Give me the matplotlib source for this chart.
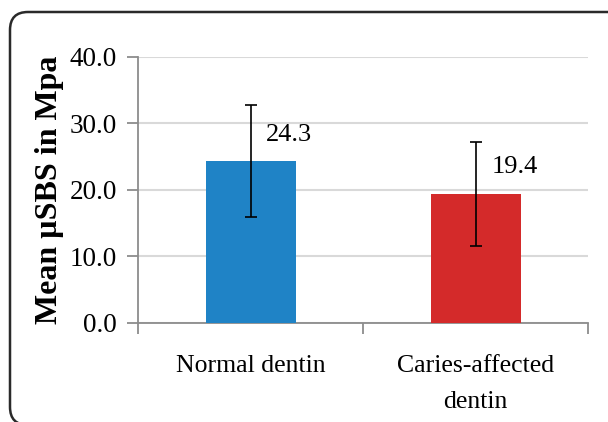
import matplotlib
matplotlib.use('Agg')
import matplotlib.pyplot as plt
from matplotlib.patches import FancyBboxPatch
from matplotlib.transforms import IdentityTransform

# data
categories = ['Normal dentin', 'Caries-affected\ndentin']
means = [24.3, 19.4]
errors = [8.4, 7.8]
bar_colors = ['#1f83c6', '#d42a2a']
y_ticks = [0, 10, 20, 30, 40]

plt.rcParams['font.family'] = ['Liberation Serif', 'DejaVu Serif']

fig = plt.figure(figsize=(6.08, 4.22), dpi=100)
ax = fig.add_axes([138/608, 1 - 323/422, 450/608, (323 - 56.7)/422])

x = list(range(len(categories)))
ax.bar(x, means, width=0.4, color=bar_colors, zorder=3)
ax.errorbar(x, means, yerr=errors, fmt='none', ecolor='black',
            elinewidth=1.2, capsize=4.5, capthick=1.2, zorder=4)

for i, m in enumerate(means):
    ax.text(i + 0.07, m + 4.0, '%.1f' % m, ha='left', va='center',
            fontsize=19, zorder=5)

ax.set_xlim(-0.5, len(categories) - 0.5)
ax.set_ylim(0, 40)
ax.set_yticks(y_ticks)
ax.set_yticklabels(['%.1f' % t for t in y_ticks])
ax.yaxis.grid(True, color='#d9d9d9', linewidth=1.5, zorder=0)
ax.set_axisbelow(True)

ax.set_xticks(x)
ax.set_xticklabels(categories, linespacing=1.85)
ax.set_xticks([i - 0.5 for i in range(len(categories) + 1)], minor=True)
ax.tick_params(axis='x', which='major', length=0, pad=23, labelsize=18.5)
ax.tick_params(axis='x', which='minor', length=8, width=1.3, color='#8c8c8c', direction='out')
ax.tick_params(axis='y', length=8, width=1.3, color='#8c8c8c', pad=7, labelsize=19.5)

for side in ['top', 'right']:
    ax.spines[side].set_visible(False)
for side in ['left', 'bottom']:
    ax.spines[side].set_color('#8c8c8c')
    ax.spines[side].set_linewidth(1.3)

ax.set_ylabel('Mean µSBS in Mpa', fontsize=23, fontweight='bold', labelpad=4)

# rounded outer frame, runs off the right and bottom edges
frame = FancyBboxPatch((10, -3), 620, 413, boxstyle='round,pad=0,rounding_size=18',
                       linewidth=1.8, edgecolor='#2a2a2a', facecolor='none')
frame.set_transform(IdentityTransform())
fig.patches.append(frame)

fig.savefig('out.png', dpi=100)
